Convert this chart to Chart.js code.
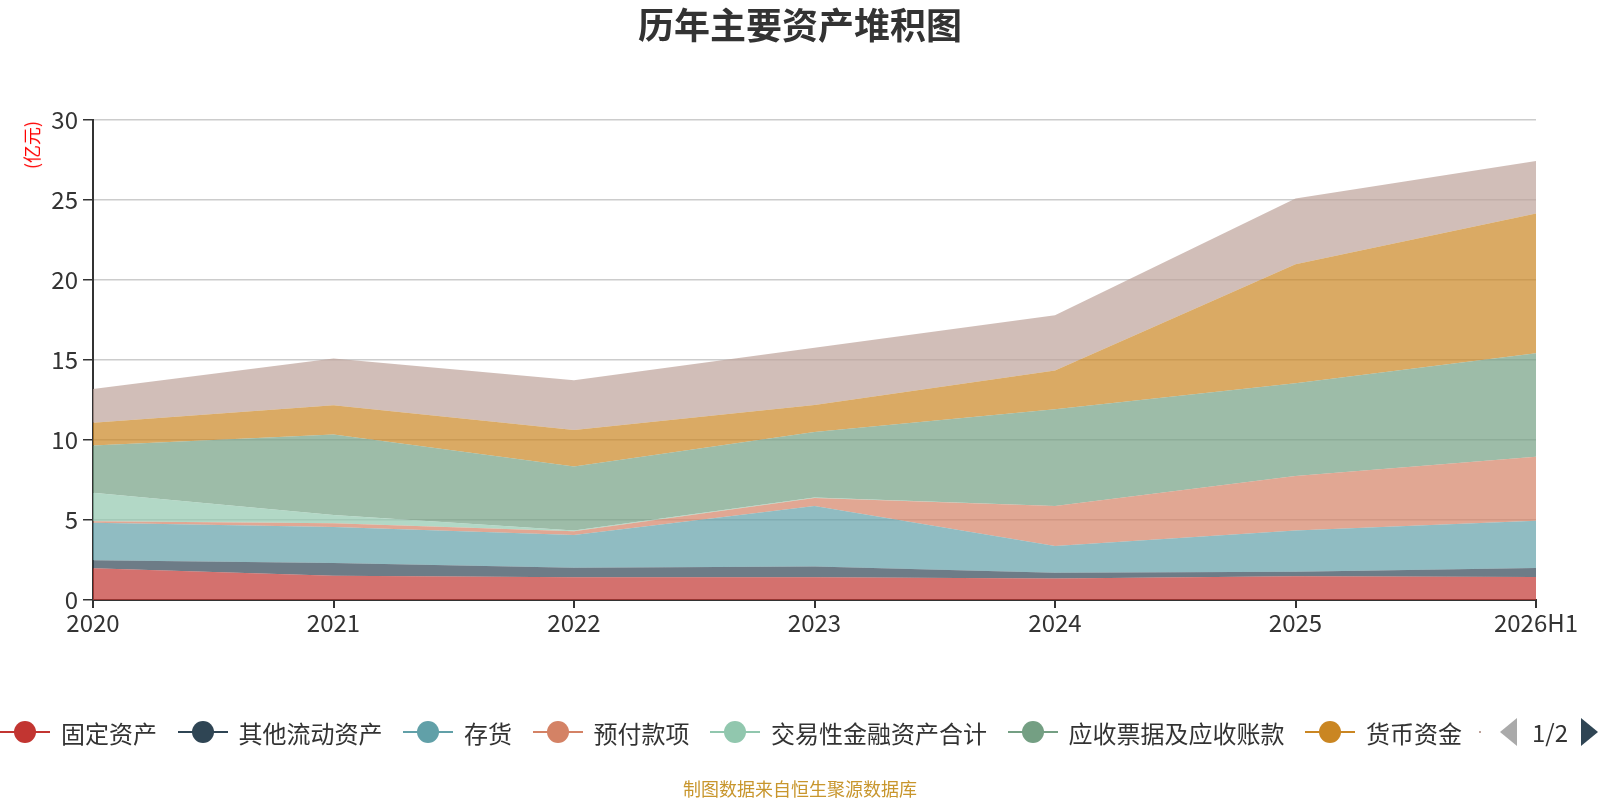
<!DOCTYPE html>
<html>
<head>
<meta charset="utf-8">
<script src="https://cdn.jsdelivr.net/npm/chart.js@4.4.1/dist/chart.umd.min.js"></script>
<style>
  html, body { margin: 0; padding: 0; background: #fff; }
  body { width: 1600px; height: 800px; position: relative; overflow: hidden;
         font-family: "Noto Sans CJK SC", "Noto Sans", sans-serif; color: #333; }
  #wrap { position: absolute; left: 0; top: 0; width: 1600px; height: 800px; }
  #title { position: absolute; left: 500px; width: 600px; top: 0px; text-align: center;
           font-size: 36px; font-weight: bold; color: #333; line-height: 46px; }
  #unit { position: absolute; left: 31px; top: 145px; transform: translate(-50%, -50%) rotate(-90deg);
          color: #ff0000; font-size: 18px; white-space: nowrap; }
  #legend { position: absolute; left: 0px; top: 717px; height: 30px; display: flex; align-items: center;
            font-size: 24px; color: #333; white-space: nowrap; }
  .item { display: flex; align-items: center; margin-right: 20.5px; }
  .icon { position: relative; width: 50px; height: 22px; margin-right: 11px; }
  .icon .ln { position: absolute; left: 0; right: 0; top: 10px; height: 2px; }
  .icon .dot { position: absolute; left: 14px; top: 0; width: 22px; height: 22px; border-radius: 50%; }
  #pager { position: absolute; left: 0; top: 0; }
  .crumb { position: absolute; left: 1479px; top: 731px; width: 2px; height: 2px; background: #bda29a; }
  .tri-l { position: absolute; left: 1500px; top: 718px; width: 0; height: 0;
           border-top: 14px solid transparent; border-bottom: 14px solid transparent; border-right: 17px solid #aaa; }
  .tri-r { position: absolute; left: 1581px; top: 718px; width: 0; height: 0;
           border-top: 14px solid transparent; border-bottom: 14px solid transparent; border-left: 17px solid #2f4554; }
  .page { position: absolute; left: 1532px; top: 715px; font-size: 24px; line-height: 34px; color: #333; }
  #footer { position: absolute; left: 500px; width: 600px; top: 776px; text-align: center;
            font-size: 18px; line-height: 24px; color: #c8962d; }
</style>
</head>
<body>
<div id="wrap"><canvas id="c" width="1600" height="800"></canvas></div>
<div id="title">历年主要资产堆积图</div>
<div id="unit">(亿元)</div>
<div id="legend"></div>
<div id="pager"><div class="crumb"></div><div class="tri-l"></div><span class="page">1/2</span><div class="tri-r"></div></div>
<div id="footer">制图数据来自恒生聚源数据库</div>
<script>
// 年份
const years = ['2020', '2021', '2022', '2023', '2024', '2025', '2026H1'];

// 各项资产 (亿元), 从下往上堆叠
const fixedAssets    = [1.98, 1.52, 1.42, 1.42, 1.35, 1.48, 1.44]; // 固定资产
const otherCurrent   = [0.50, 0.79, 0.60, 0.68, 0.36, 0.29, 0.56]; // 其他流动资产
const inventory      = [2.35, 2.25, 2.04, 3.78, 1.67, 2.58, 2.96]; // 存货
const prepayments    = [0.09, 0.23, 0.23, 0.50, 2.50, 3.40, 4.00]; // 预付款项
const tradingAssets  = [1.79, 0.52, 0.06, 0.02, 0.00, 0.00, 0.00]; // 交易性金融资产合计
const receivables    = [2.94, 5.04, 4.00, 4.10, 6.04, 5.79, 6.46]; // 应收票据及应收账款
const cash           = [1.43, 1.82, 2.28, 1.69, 2.43, 7.44, 8.73]; // 货币资金
const others         = [2.11, 2.93, 3.10, 3.58, 3.44, 4.12, 3.29]; // 其他

const yTicks = [0, 5, 10, 15, 20, 25, 30];

const series = [
    { name: '固定资产', data: fixedAssets, color: '#c23531' },
    { name: '其他流动资产', data: otherCurrent, color: '#2f4554' },
    { name: '存货', data: inventory, color: '#61a0a8' },
    { name: '预付款项', data: prepayments, color: '#d48265' },
    { name: '交易性金融资产合计', data: tradingAssets, color: '#91c7ae' },
    { name: '应收票据及应收账款', data: receivables, color: '#749f83' },
    { name: '货币资金', data: cash, color: '#ca8622' },
    { name: '其他', data: others, color: '#bda29a' }
];

function withAlpha(hex, a) {
    const n = parseInt(hex.slice(1), 16);
    return `rgba(${(n >> 16) & 255}, ${(n >> 8) & 255}, ${n & 255}, ${a})`;
}

// legend, page 1 only shows the first 7
const legend = document.getElementById('legend');
series.slice(0, 7).forEach(s => {
    const item = document.createElement('div');
    item.className = 'item';
    item.innerHTML = `<div class="icon"><div class="ln" style="background:${s.color}"></div>` +
        `<div class="dot" style="background:${s.color}"></div></div><span>${s.name}</span>`;
    legend.appendChild(item);
});

const datasets = series.map((s, i) => ({
    label: s.name,
    data: s.data,
    backgroundColor: withAlpha(s.color, 0.7),
    borderColor: 'rgba(0,0,0,0)',
    borderWidth: 0,
    pointRadius: 0,
    tension: 0,
    fill: i === 0 ? 'origin' : '-1'
}));

const tickFont = { family: '"Noto Sans CJK SC", "Noto Sans", sans-serif', size: 24 };

new Chart(document.getElementById('c'), {
    type: 'line',
    data: { labels: years, datasets },
    options: {
        responsive: false,
        animation: false,
        layout: { padding: { top: 120, right: 64, bottom: 0, left: 0 } },
        plugins: {
            legend: { display: false },
            tooltip: { enabled: false },
            title: { display: false }
        },
        scales: {
            x: {
                offset: false,
                border: { color: '#333', width: 2 },
                grid: { drawOnChartArea: false, tickColor: '#333', tickLength: 8, lineWidth: 2 },
                ticks: { color: '#333', font: tickFont, padding: 0, maxRotation: 0, autoSkip: false },
                afterFit: scale => { scale.height = 200; }
            },
            y: {
                stacked: true,
                min: 0,
                max: 30,
                border: { color: '#333', width: 2 },
                grid: { color: '#cccccc', lineWidth: 1.5, tickColor: '#333', tickLength: 10 },
                ticks: {
                    color: '#333', font: tickFont, padding: 5,
                    stepSize: 5,
                    callback: v => yTicks.includes(v) ? v : ''
                },
                afterFit: scale => { scale.width = 93; }
            }
        }
    }
});
</script>
</body>
</html>
